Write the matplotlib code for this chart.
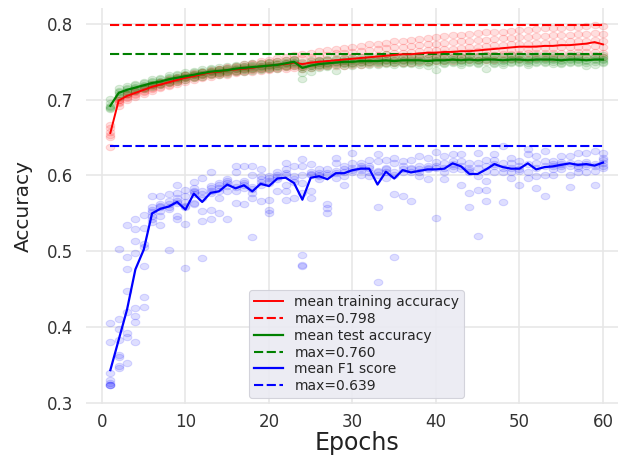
import numpy as np
import matplotlib
matplotlib.use("Agg")
import matplotlib.pyplot as plt
from matplotlib.path import Path

# ---------------- data (values in thousandths) ----------------
epochs = list(range(1, 61))

train_mean = [656, 699, 705, 709, 713, 717, 720, 723, 726, 729,
              731, 734, 736, 737, 739, 740, 741, 742, 744, 745,
              746, 747, 749, 747, 749, 750, 751, 752, 753, 754,
              755, 756, 757, 758, 759, 760, 760, 761, 762, 762,
              763, 763, 764, 764, 765, 766, 767, 768, 769, 770,
              770, 770, 771, 771, 772, 772, 773, 774, 776, 773]

test_mean = [692, 709, 713, 716, 719, 722, 724, 727, 729, 731,
             733, 735, 737, 738, 739, 741, 742, 743, 744, 745,
             746, 748, 750, 742, 745, 747, 748, 749, 750, 750,
             751, 751, 751, 752, 751, 752, 752, 752, 751, 752,
             752, 753, 752, 753, 752, 753, 753, 752, 753, 753,
             752, 753, 753, 753, 752, 753, 753, 752, 753, 753]

f1_mean = [343, 383, 423, 476, 502, 550, 556, 559, 565, 555,
           576, 565, 577, 579, 588, 583, 587, 579, 589, 586,
           596, 597, 590, 568, 597, 599, 595, 603, 603, 607,
           609, 609, 588, 605, 596, 607, 604, 606, 608, 608,
           609, 616, 612, 602, 602, 608, 615, 611, 609, 609,
           616, 608, 611, 612, 614, 616, 614, 615, 613, 617]

train_max = 0.798
test_max = 0.760
f1_max = 0.639

train_runs = [
    [667, 702, 708, 713, 717, 721, 724, 727, 730, 733, 735, 737, 739, 741, 743, 745, 747, 749, 751, 753,
     755, 757, 759, 760, 762, 764, 765, 767, 768, 770, 771, 773, 774, 775, 777, 778, 779, 780, 782, 783,
     784, 785, 786, 787, 788, 789, 790, 790, 791, 792, 792, 793, 794, 794, 795, 796, 796, 797, 798, 797],
    [662, 700, 707, 711, 716, 720, 723, 726, 729, 732, 734, 736, 738, 740, 742, 743, 745, 747, 748, 750,
     751, 753, 754, 755, 757, 758, 759, 761, 762, 763, 764, 765, 767, 768, 769, 770, 771, 772, 773, 774,
     775, 776, 777, 778, 779, 779, 780, 781, 782, 783, 783, 784, 784, 785, 786, 786, 787, 787, 788, 787],
    [657, 699, 706, 710, 714, 718, 721, 724, 727, 730, 732, 734, 736, 738, 739, 741, 742, 743, 745, 746,
     747, 748, 750, 749, 751, 752, 753, 754, 755, 756, 757, 758, 759, 760, 761, 762, 763, 764, 765, 766,
     767, 767, 768, 769, 770, 771, 772, 772, 773, 774, 774, 775, 775, 776, 776, 777, 778, 778, 779, 778],
    [653, 697, 704, 708, 712, 716, 719, 722, 725, 728, 730, 732, 734, 735, 737, 738, 740, 741, 742, 743,
     744, 745, 746, 745, 747, 748, 749, 750, 751, 752, 753, 754, 755, 756, 757, 757, 758, 759, 760, 760,
     761, 762, 762, 763, 764, 764, 765, 766, 766, 767, 767, 768, 768, 768, 769, 769, 770, 770, 771, 770],
    [651, 695, 702, 706, 710, 714, 717, 720, 723, 726, 728, 730, 732, 734, 735, 737, 738, 739, 740, 741,
     742, 743, 744, 743, 745, 746, 746, 747, 748, 749, 750, 750, 751, 752, 753, 753, 754, 755, 755, 756,
     756, 757, 757, 758, 758, 759, 759, 760, 760, 760, 761, 761, 761, 762, 762, 762, 763, 763, 763, 762],
    [638, 692, 700, 704, 708, 712, 715, 718, 721, 724, 726, 728, 730, 732, 733, 735, 736, 737, 738, 739,
     740, 741, 742, 741, 742, 743, 744, 744, 745, 746, 746, 747, 747, 748, 748, 749, 749, 750, 750, 751,
     751, 751, 752, 752, 753, 753, 753, 754, 754, 754, 754, 755, 755, 755, 755, 756, 756, 756, 757, 756],
]

test_runs = [
    [701, 715, 718, 721, 724, 727, 729, 732, 734, 736, 738, 740, 742, 743, 744, 746, 747, 748, 749, 750,
     751, 752, 754, 750, 752, 753, 754, 755, 755, 756, 756, 757, 757, 760, 757, 758, 758, 758, 757, 758,
     758, 759, 758, 759, 758, 759, 759, 758, 759, 759, 758, 759, 759, 759, 758, 759, 759, 758, 759, 759],
    [696, 712, 716, 719, 722, 725, 727, 730, 732, 734, 736, 738, 740, 741, 742, 744, 745, 746, 747, 748,
     749, 750, 752, 746, 749, 751, 752, 752, 753, 754, 754, 755, 755, 755, 755, 756, 756, 756, 755, 756,
     756, 756, 756, 757, 756, 757, 756, 756, 757, 756, 756, 757, 757, 757, 756, 757, 757, 756, 757, 757],
    [692, 710, 714, 717, 720, 723, 725, 728, 730, 732, 734, 736, 738, 739, 740, 742, 743, 744, 745, 746,
     747, 748, 750, 743, 746, 748, 749, 750, 751, 751, 752, 752, 752, 753, 752, 753, 753, 753, 752, 753,
     753, 754, 753, 754, 753, 754, 754, 753, 754, 754, 753, 754, 754, 754, 753, 754, 754, 753, 754, 754],
    [690, 708, 712, 715, 718, 721, 723, 726, 728, 730, 732, 734, 736, 737, 738, 740, 741, 742, 743, 744,
     745, 747, 749, 740, 744, 746, 747, 748, 749, 749, 750, 750, 750, 751, 750, 751, 751, 751, 750, 751,
     751, 752, 751, 752, 751, 752, 751, 751, 752, 752, 751, 752, 752, 752, 751, 752, 752, 751, 752, 752],
    [688, 705, 710, 713, 716, 719, 721, 724, 726, 728, 730, 732, 734, 735, 736, 738, 739, 740, 741, 742,
     743, 745, 747, 735, 742, 744, 745, 746, 747, 747, 748, 748, 748, 749, 748, 749, 749, 749, 748, 749,
     749, 750, 749, 750, 749, 750, 749, 749, 750, 750, 749, 750, 750, 750, 749, 750, 750, 749, 750, 750],
    [689, 703, 708, 711, 714, 717, 719, 722, 724, 726, 728, 730, 732, 733, 734, 736, 737, 738, 739, 740,
     741, 743, 745, 727, 737, 742, 743, 738, 745, 745, 746, 746, 746, 747, 746, 747, 747, 746, 745, 739,
     747, 748, 746, 748, 747, 741, 747, 746, 748, 748, 746, 748, 748, 747, 747, 748, 748, 744, 746, 748],
]

f1_runs = [
    [405, 380, 339, 330, 326, 324, 323, 323],
    [503, 410, 397, 383, 363, 349, 346, 360],
    [534, 493, 476, 447, 392, 387, 352, 420],
    [543, 529, 514, 498, 425, 414, 407, 380],
    [548, 506, 481, 440, 427, 510, 530],
    [573, 559, 547, 542, 538, 555, 552],
    [573, 562, 553, 546, 535, 558, 560],
    [575, 566, 559, 502, 562, 556],
    [588, 577, 566, 546, 543, 570, 563],
    [581, 573, 559, 536, 478, 560, 565],
    [591, 584, 575, 562, 564, 580, 578],
    [596, 579, 553, 540, 491, 575, 570],
    [605, 586, 577, 555, 543, 580, 583],
    [590, 584, 570, 551, 580, 587],
    [593, 586, 579, 543, 590, 595],
    [613, 604, 590, 564, 585, 580],
    [612, 593, 584, 562, 590, 588],
    [612, 601, 577, 570, 519, 585, 582],
    [609, 599, 588, 566, 592, 595],
    [599, 593, 568, 555, 550, 590, 596],
    [604, 595, 579, 600, 598],
    [617, 608, 588, 579, 568, 600, 603],
    [612, 599, 570, 595, 592],
    [622, 612, 601, 577, 495, 482, 480, 590],
    [615, 604, 579, 570, 600, 602],
    [608, 599, 595, 603, 600],
    [608, 562, 557, 551, 600, 603],
    [623, 617, 606, 597, 603],
    [612, 599, 588, 605, 608],
    [629, 617, 604, 607, 610],
    [617, 612, 601, 607, 610],
    [621, 612, 599, 605, 610],
    [628, 619, 606, 559, 459, 600, 604],
    [621, 604, 597, 608, 610],
    [623, 617, 575, 493, 600, 605],
    [619, 608, 573, 605, 612],
    [621, 604, 566, 608, 610],
    [626, 612, 599, 605, 608],
    [623, 608, 595, 610, 612],
    [631, 618, 544, 610, 613],
    [626, 617, 604, 595, 610],
    [628, 619, 608, 615, 612],
    [628, 619, 608, 588, 612],
    [617, 604, 577, 559, 610, 607],
    [630, 617, 599, 581, 520, 610],
    [621, 606, 593, 581, 566, 612],
    [628, 621, 604, 615, 612],
    [639, 617, 604, 565, 610],
    [623, 617, 596, 610, 605],
    [619, 608, 588, 612, 606],
    [635, 628, 604, 597, 615],
    [626, 617, 599, 584, 610],
    [632, 619, 601, 573, 612],
    [619, 608, 601, 613, 615],
    [626, 615, 609, 612, 618],
    [626, 617, 601, 585, 612],
    [630, 617, 604, 612, 610],
    [630, 615, 604, 612, 618],
    [632, 615, 606, 588, 612],
    [630, 623, 617, 610, 612, 620],
]

# ---------------- figure ----------------
plt.rcParams['font.family'] = ['DejaVu Sans']
fig = plt.figure(figsize=(6.18, 4.58), dpi=100)
ax = fig.add_axes([85.7 / 618, 54.5 / 458, (627.6 - 85.7) / 618, (449.6 - 54.5) / 458])
ax.set_facecolor('white')
for s in ax.spines.values():
    s.set_visible(False)
ax.grid(True, color='#E6E6E6', linewidth=1.1, zorder=0)
ax.set_axisbelow(True)

# slightly wide elliptical marker (original image is stretched horizontally)
th = np.linspace(0, 2 * np.pi, 41)
ell = Path(np.column_stack([np.cos(th), 0.74 * np.sin(th)]), closed=True)

ep = np.array(epochs)
k = 1000.0

def cloud(runs, color):
    for r in runs:
        ax.plot(ep, np.array(r) / k, linestyle='none', marker=ell, ms=6.2,
                color=color, alpha=0.13, mew=0.8, zorder=2)

cloud(train_runs, 'red')
ax.plot(ep, np.array(train_mean) / k, color='red', lw=1.4, zorder=4,
        label='mean training accuracy')
ax.plot([ep[0], ep[-1]], [train_max, train_max], color='red', lw=1.5,
        dashes=(4.4, 1.7), zorder=3, label='max=%.3f' % train_max)

cloud(test_runs, 'green')
ax.plot(ep, np.array(test_mean) / k, color='green', lw=1.6, zorder=5,
        label='mean test accuracy')
ax.plot([ep[0], ep[-1]], [test_max, test_max], color='green', lw=1.5,
        dashes=(4.4, 1.7), zorder=3, label='max=%.3f' % test_max)

fx = [e for e, vals in zip(epochs, f1_runs) for v in vals]
fy = [v / k for vals in f1_runs for v in vals]
ax.plot(fx, fy, linestyle='none', marker=ell, ms=6.2, color='blue',
        alpha=0.13, mew=0.8, zorder=2)
ax.plot(ep, np.array(f1_mean) / k, color='blue', lw=1.6, zorder=5,
        label='mean F1 score')
ax.plot([ep[0], ep[-1]], [f1_max, f1_max], color='blue', lw=1.5,
        dashes=(4.4, 1.7), zorder=3, label='max=%.3f' % f1_max)

ax.set_xlim(-1.95, 62.95)
ax.set_ylim(0.299, 0.8205)
ax.set_xticks([0, 10, 20, 30, 40, 50, 60])
ax.set_yticks([0.3, 0.4, 0.5, 0.6, 0.7, 0.8])
ax.tick_params(axis='both', length=0, labelsize=12, labelcolor='#333333')
ax.tick_params(axis='y', pad=9)
ax.tick_params(axis='x', pad=7)

ax.set_xlabel('Epochs', fontsize=17, color='#222222', labelpad=0)
ax.set_ylabel('Accuracy', fontsize=14.5, color='#222222', labelpad=10)

leg = ax.legend(loc='lower center', fontsize=10, frameon=True, fancybox=True,
                facecolor='#EAEAF2', edgecolor='#D0D0D8', framealpha=0.9,
                labelspacing=0.2, borderaxespad=0.4, handlelength=2.1,
                borderpad=0.35)
leg.get_frame().set_linewidth(0.8)
for t in leg.get_texts():
    t.set_color('#262626')

fig.savefig('out.png', dpi=100)
